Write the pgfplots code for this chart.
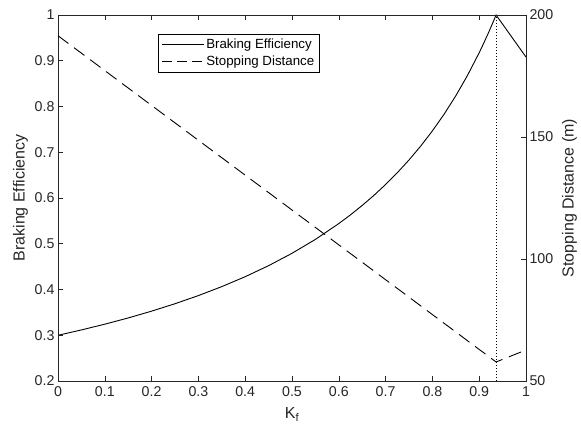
\documentclass[border=0pt]{standalone}
\usepackage{fontspec}
\setmainfont{Liberation Sans}
\usepackage{pgfplots}
\pgfplotsset{compat=1.18}
\definecolor{axgray}{RGB}{38,38,38}
\begin{document}
\begin{tikzpicture}
\pgfplotsset{
  common/.style={
    at={(58bp,49bp)}, anchor=south west,
    scale only axis, width=468bp, height=366bp,
    xmin=0, xmax=1,
    clip=false,
    tick align=inside,
    major tick length=5bp,
    axis line style={line width=0.6bp, draw=axgray},
    every tick/.style={line width=0.6bp, axgray},
    tick label style={font=\fontsize{14.2bp}{16bp}\selectfont, text=axgray},
    xticklabel style={yshift=-2bp},
    xlabel style={font=\fontsize{16bp}{18bp}\selectfont, text=axgray, yshift=-4bp},
    ylabel style={font=\fontsize{16bp}{18bp}\selectfont, text=axgray},
    /pgf/number format/assume math mode=true,
  }
}
\begin{axis}[common,
  ymin=0.2, ymax=1,
  xtick={0,0.1,0.2,0.3,0.4,0.5,0.6,0.7,0.8,0.9,1},
  ytick={0.2,0.3,0.4,0.5,0.6,0.7,0.8,0.9,1},
  xtick pos=both, xticklabel pos=bottom,
  ytick pos=left, yticklabel pos=left,
  xlabel={K\textsubscript{f}},
  ylabel={Braking Efficiency},
  legend style={at={(0.214,0.948)}, anchor=north west, draw=black, line width=0.5bp,
    font=\fontsize{13.3bp}{15bp}\selectfont, inner xsep=3bp, inner ysep=3bp,
    row sep=1.5bp, cells={anchor=west}},
  legend image code/.code={\draw[#1] (0bp,0bp) -- (42bp,0bp);},
]
\addplot[black, line width=0.9bp] coordinates {
(0,0.2999) (0.05,0.3116) (0.1,0.3242) (0.15,0.3378) (0.2,0.3527) (0.25,0.3689)
(0.3,0.3867) (0.35,0.4063) (0.4,0.4280) (0.45,0.4521) (0.5,0.4791) (0.55,0.5095)
(0.6,0.5441) (0.625,0.5632) (0.65,0.5837) (0.675,0.6057) (0.7,0.6295) (0.725,0.6552)
(0.75,0.6831) (0.775,0.7135) (0.8,0.7467) (0.825,0.7832) (0.85,0.8234) (0.875,0.8680)
(0.9,0.9176) (0.91,0.9391) (0.92,0.9616) (0.93,0.9853) (0.936,1.0)
(0.95,0.980) (0.975,0.944) (1,0.908)
};
\addlegendentry{Braking Efficiency}
\addlegendimage{black, line width=0.9bp, dash pattern=on 10bp off 5bp}
\addlegendentry{Stopping Distance}
\addplot[black, line width=0.7bp, dash pattern=on 1bp off 2bp, forget plot] coordinates {(0.936,0.2) (0.936,1)};
\end{axis}
\begin{axis}[common,
  ymin=50, ymax=200,
  ytick={50,100,150,200},
  xtick=\empty,
  ytick pos=right, yticklabel pos=right,
  ylabel near ticks,
  ylabel={Stopping Distance (m)},
  ylabel style={font=\fontsize{16bp}{18bp}\selectfont, text=axgray, yshift=-2bp},
]
\addplot[black, line width=0.9bp, dash pattern=on 13bp off 7bp] coordinates {
(0,191.5) (0.936,57.8) (1,62.7)
};
\end{axis}
\pgfresetboundingbox
\path[use as bounding box] (0,0) rectangle (581bp,430bp);
\end{tikzpicture}
\end{document}
